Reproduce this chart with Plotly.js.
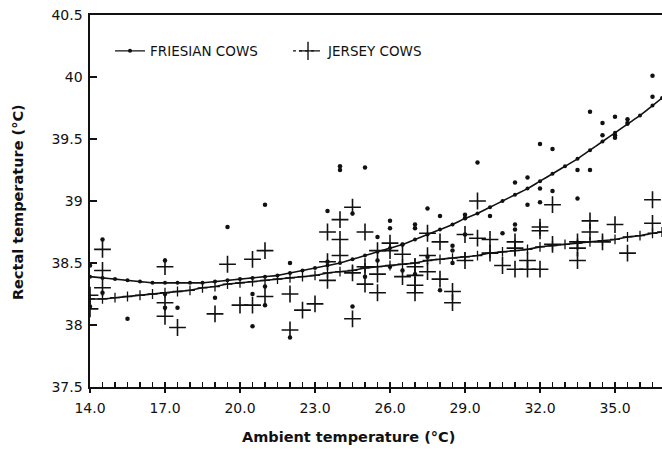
<!DOCTYPE html>
<html>
<head>
<meta charset="utf-8">
<script src="https://cdn.plot.ly/plotly-3.0.1.min.js"></script>
<style>html,body{margin:0;padding:0;background:#fff;}#chart{width:662px;height:467px;}</style>
</head>
<body>
<div id="chart"></div>
<script>
// Fitted curves (read at each 0.5 °C)
const fitX = [14.0,14.5,15.0,15.5,16.0,16.5,17.0,17.5,18.0,18.5,19.0,19.5,20.0,20.5,21.0,21.5,22.0,22.5,23.0,23.5,24.0,24.5,25.0,25.5,26.0,26.5,27.0,27.5,28.0,28.5,29.0,29.5,30.0,30.5,31.0,31.5,32.0,32.5,33.0,33.5,34.0,34.5,35.0,35.5,36.0,36.5,36.88];
const friesianFit = [38.39,38.38,38.37,38.36,38.35,38.34,38.34,38.34,38.34,38.34,38.35,38.36,38.37,38.38,38.39,38.40,38.42,38.44,38.46,38.48,38.50,38.53,38.56,38.59,38.62,38.65,38.69,38.73,38.77,38.81,38.86,38.90,38.95,39.00,39.05,39.10,39.16,39.22,39.28,39.34,39.41,39.48,39.55,39.62,39.69,39.77,39.83];
const jerseyFit = [38.21,38.21,38.22,38.23,38.24,38.25,38.26,38.27,38.28,38.30,38.31,38.33,38.34,38.35,38.36,38.37,38.38,38.39,38.40,38.42,38.43,38.44,38.46,38.47,38.48,38.49,38.50,38.52,38.53,38.54,38.55,38.56,38.58,38.59,38.60,38.61,38.63,38.64,38.65,38.66,38.67,38.68,38.69,38.71,38.72,38.74,38.75];

// Friesian observations
const friesianX = [14.0,14.0,14.5,14.5,15.5,17.0,17.0,17.0,17.5,19.0,19.5,20.5,20.5,21.0,21.0,21.0,22.0,22.0,23.5,23.5,24.0,24.0,24.5,24.5,25.0,25.0,25.5,25.5,26.0,26.0,26.0,26.5,26.5,27.0,27.0,27.0,27.5,27.5,28.0,28.0,28.5,28.5,28.5,29.0,29.0,29.0,29.5,30.0,30.5,31.0,31.0,31.0,31.5,31.5,32.0,32.0,32.0,32.5,32.5,33.5,33.5,34.0,34.0,34.5,34.5,35.0,35.0,35.0,35.5,35.5,36.5,36.5];
const friesianY = [38.48,38.15,38.69,38.26,38.05,38.52,38.25,38.14,38.14,38.22,38.79,38.25,37.99,38.97,38.31,38.16,38.50,37.90,38.92,38.51,39.25,39.28,38.90,38.15,39.27,38.39,38.71,38.52,38.84,38.78,38.47,38.65,38.44,38.81,38.78,38.41,38.94,38.55,38.88,38.28,38.64,38.60,38.50,38.89,38.86,38.73,39.31,38.88,38.74,39.15,38.81,38.77,39.19,38.97,39.46,39.10,38.99,39.42,39.08,39.25,39.02,39.72,39.25,39.63,39.53,39.68,39.53,39.51,39.66,39.63,40.01,39.84];

// Jersey observations
const jerseyX = [14.0,14.0,14.5,14.5,14.5,17.0,17.0,17.0,17.5,19.0,19.5,20.0,20.5,20.5,21.0,21.0,22.0,22.0,22.5,23.0,23.5,23.5,23.5,24.0,24.0,24.0,24.5,24.5,24.5,25.0,25.0,25.0,25.5,25.5,25.5,26.0,26.0,26.5,26.5,27.0,27.0,27.0,27.0,27.5,27.5,27.5,28.0,28.0,28.5,28.5,29.0,29.0,29.5,29.5,30.0,30.0,30.5,31.0,31.0,31.0,31.5,31.5,32.0,32.0,32.0,32.5,32.5,33.5,33.5,33.5,34.0,34.0,34.5,35.0,35.5,36.5,36.5];
const jerseyY = [38.24,38.13,38.61,38.44,38.30,38.47,38.18,38.07,37.98,38.09,38.49,38.16,38.53,38.16,38.60,38.23,38.25,37.96,38.12,38.17,38.75,38.51,38.36,38.85,38.69,38.56,38.95,38.42,38.05,38.75,38.47,38.33,38.60,38.41,38.26,38.66,38.60,38.57,38.39,38.47,38.40,38.32,38.26,38.74,38.56,38.43,38.67,38.37,38.27,38.18,38.73,38.52,39.00,38.70,38.69,38.58,38.48,38.67,38.62,38.45,38.52,38.45,38.79,38.76,38.45,38.97,38.65,38.67,38.62,38.52,38.84,38.75,38.67,38.81,38.58,39.01,38.82];

const xTickVals = [14,17,20,23,26,29,32,35];
const yTickVals = [37.5,38,38.5,39,39.5,40,40.5];
const names = ['FRIESIAN COWS','JERSEY COWS'];
const xTitle = 'Ambient temperature (°C)';
const yTitle = 'Rectal temperature (°C)';

const ink = '#111';
const xRange = [14, 36.88];
const yRange = [37.5, 40.5];
const fam = '"DejaVu Sans", "Liberation Sans", Arial, sans-serif';

const traces = [
  {x: friesianX, y: friesianY, type:'scatter', mode:'markers', showlegend:false,
   marker:{symbol:'circle', size:4.5, color:ink}},
  {x: jerseyX, y: jerseyY, type:'scatter', mode:'markers', showlegend:false,
   marker:{symbol:'cross-thin', size:12, line:{width:1.6, color:ink}, color:ink}},
  {x: fitX, y: friesianFit, type:'scatter', mode:'lines+markers', showlegend:false,
   line:{color:ink, width:1.6, shape:'spline'}, marker:{symbol:'circle', size:4, color:ink}},
  {x: fitX, y: jerseyFit, type:'scatter', mode:'lines+markers', showlegend:false,
   line:{color:ink, width:1.6, shape:'spline'}, marker:{symbol:'cross-thin', size:7, line:{width:1.3, color:ink}, color:ink}},
  // legend entries
  {x:[null], y:[null], type:'scatter', mode:'lines+markers', name:names[0],
   line:{color:ink, width:1.4}, marker:{symbol:'circle', size:4, color:ink}},
  {x:[null], y:[null], type:'scatter', mode:'lines+markers', name:names[1],
   line:{color:ink, width:1.4, dash:'dot'}, marker:{symbol:'cross-thin', size:13, line:{width:1.4, color:ink}, color:ink}},
  {x:[], y:[], xaxis:'x2', type:'scatter', showlegend:false}
];

const layout = {
  width:662, height:467,
  margin:{l:90, r:0, t:15, b:80},
  paper_bgcolor:'#fff', plot_bgcolor:'#fff',
  font:{family:fam, size:14, color:ink},
  showlegend:true,
  legend:{orientation:'h', x:0.035, xanchor:'left', y:0.903, yanchor:'middle',
          bgcolor:'rgba(0,0,0,0)', font:{size:13.5, color:ink}, itemwidth:30, tracegroupgap:0,
          entrywidth:133, entrywidthmode:'pixels'},
  xaxis:{range:xRange, tickvals:xTickVals, tickformat:'.1f', ticks:'inside', ticklen:5, tickwidth:1.3,
         tickcolor:ink, showline:true, linecolor:ink, linewidth:1.6, mirror:true, showgrid:false, zeroline:false,
         minor:{dtick:0.5, tick0:14, ticks:'inside', ticklen:5, tickwidth:1.2, tickcolor:ink},
         tickfont:{size:14}, ticklabelstandoff:8},
  xaxis2:{range:xRange, overlaying:'x', anchor:'y', side:'bottom', tickvals:xTickVals, ticks:'outside', ticklen:5,
          tickwidth:1.3, tickcolor:ink, showticklabels:false, showline:false, showgrid:false, zeroline:false},
  yaxis:{range:yRange, tickvals:yTickVals, ticks:'inside', ticklen:7, tickwidth:1.3, tickcolor:ink,
         showline:true, linecolor:ink, linewidth:1.6, showgrid:false, zeroline:false, tickfont:{size:14},
         ticklabelstandoff:3},
  annotations:[
    {text:'<b>'+xTitle+'</b>', xref:'paper', yref:'paper', x:0.452, y:-0.135, xanchor:'center', yanchor:'middle',
     showarrow:false, font:{size:14.5}},
    {text:'<b>'+yTitle+'</b>', xref:'paper', yref:'paper', x:-0.126, y:0.497, xanchor:'center', yanchor:'middle',
     textangle:-90, showarrow:false, font:{size:14.5}}
  ]
};

Plotly.newPlot('chart', traces, layout, {displayModeBar:false, staticPlot:true});
</script>
</body>
</html>
